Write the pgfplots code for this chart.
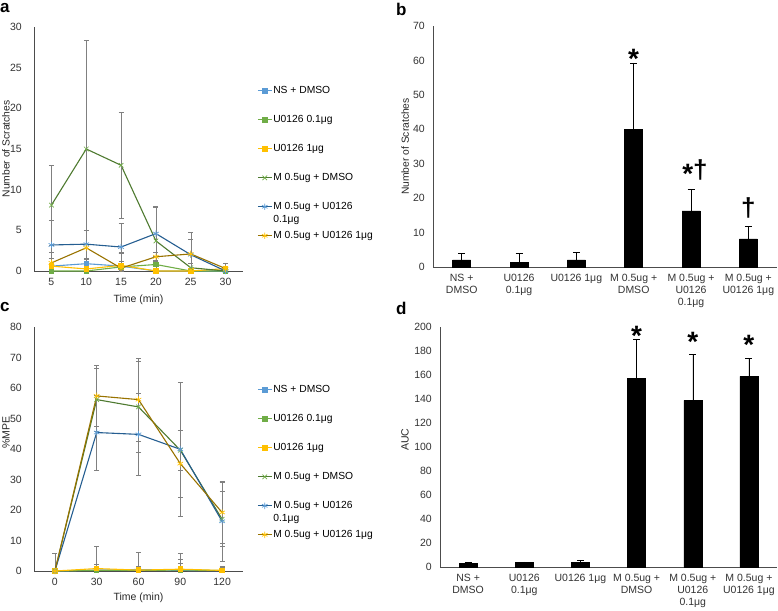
\documentclass[border=0pt]{standalone}
\usepackage{pgfplots}
\pgfplotsset{compat=1.18}
\usepackage{fontspec}
\setmainfont{Liberation Sans}
\definecolor{lblue}{HTML}{5B9BD5}
\definecolor{lgreen}{HTML}{70AD47}
\definecolor{lyellow}{HTML}{FFC000}
\definecolor{dgreen}{HTML}{4E7A30}
\definecolor{dblue}{HTML}{255E91}
\definecolor{brown}{HTML}{997300}
\definecolor{ebgray}{HTML}{808080}
\tikzset{
  ast/.style={anchor=base, inner sep=0pt, font=\bfseries\fontsize{28}{28}\selectfont},
  dag/.style={anchor=base, inner sep=0pt, font=\bfseries\fontsize{26}{26}\selectfont},
}
\pgfplotsset{
  common/.style={scale only axis, axis lines=left, axis line style={-, black!70, line width=0.6pt},
    major tick length=0pt, tick style={draw=none}, clip=false,
    /pgf/number format/assume math mode=true,
    ticklabel style={font=\fontsize{10.5}{12.5}\selectfont, text=black!80},
    label style={font=\fontsize{10.3}{12}\selectfont, text=black!85}},
  lineax/.style={common,
    legend cell align=left,
    legend style={draw=none, fill=none, anchor=north west, inner sep=0pt, row sep=18pt,
      font=\fontsize{10.3}{13}\selectfont,
      nodes={text height=7pt, text depth=2pt, inner sep=1pt},
      /tikz/every even column/.append style={column sep=1pt}},
    legend image code/.code={\draw[mark repeat=2,mark phase=2,##1] plot coordinates {(0pt,0pt)(7pt,0pt)(14pt,0pt)};},
    yticklabel style={anchor=east, inner sep=0pt, xshift=-12pt},
    xticklabel style={anchor=north, inner sep=0pt, yshift=-7pt}},
  ebar/.style={error bars/.cd, y dir=both, y explicit, error bar style={ebgray, line width=0.5pt, solid},
    error mark options={ebgray, rotate=90, mark size=2.5pt, line width=0.5pt}},
  s1/.style={lblue, line width=1.1pt, mark=square*, mark size=2.2pt, mark options={lblue, fill=lblue, solid}, ebar},
  s2/.style={lgreen, line width=1.1pt, mark=square*, mark size=2.2pt, mark options={lgreen, fill=lgreen, solid}, ebar},
  s3/.style={lyellow, line width=1.1pt, mark=square*, mark size=2.2pt, mark options={lyellow, fill=lyellow, solid}, ebar},
  s4/.style={dgreen, line width=1.1pt, mark=x, mark size=3.2pt, mark options={lgreen, line width=0.7pt, solid}, ebar},
  s5/.style={dblue, line width=1.1pt, mark=asterisk, mark size=3.2pt, mark options={lblue, line width=0.7pt, solid}, ebar},
  s6/.style={brown, line width=1.1pt, mark=asterisk, mark size=3.2pt, mark options={lyellow, line width=0.7pt, solid}, ebar},
  barax/.style={common, ybar, bar width=18pt, xmin=-0.5, xmax=5.5, ymin=0, xtick=data,
    yticklabel style={anchor=east, inner sep=0pt, xshift=-8pt},
    xticklabel style={anchor=north, inner sep=0pt, yshift=-7pt, align=center, font=\fontsize{10.5}{12}\selectfont},
    xticklabels={{NS +\\DMSO},{U0126\\0.1μg},{U0126 1μg},{M 0.5ug +\\DMSO},{M 0.5ug +\\U0126\\0.1μg},{M 0.5ug +\\U0126 1μg}}},
  barplot/.style={fill=black, draw=black, error bars/.cd, y dir=plus, y explicit,
    error bar style={black, line width=0.5pt}, error mark options={black, rotate=90, mark size=3.5pt, line width=0.5pt}},
}
\newcommand{\twoline}{\begin{tabular}[t]{@{}l@{}}M 0.5ug + U0126\\0.1μg\end{tabular}}
\begin{document}
\begin{tikzpicture}[x=1pt,y=1pt]
\useasboundingbox (0,0) rectangle (778,-610);
% ---------------- panel a
\begin{axis}[lineax, at={(34pt,-271pt)}, anchor=south west, width=209pt, height=244pt,
  xmin=2.5, xmax=32.5, ymin=0, ymax=30, xtick={5,10,15,20,25,30}, ytick={0,5,...,30},
  xlabel={Time (min)}, ylabel={Number of Scratches},
  xlabel style={at={(axis description cs:0.5,-0.118)}, anchor=center, font=\fontsize{10.5}{12}\selectfont},
  ylabel style={at={(axis description cs:-0.134,0.5)}, anchor=center, rotate=0},
  legend style={at={(axis description cs:1.067,0.762)}}]
\addplot[s1] table[x=x,y=y,y error plus=ep,y error minus=em] {
x y ep em
5 0.6 1.0 0.6
10 0.9 0.7 0.7
15 0.6 1.6 0.6
20 0 0 0
25 0 0 0
30 0 0 0
};
\addlegendentry{NS + DMSO}
\addplot[s2] table[x=x,y=y,y error plus=ep,y error minus=em] {
x y ep em
5 0 0 0
10 0 0 0
15 0.5 0.7 0.5
20 0.8 1.0 0.8
25 0 0 0
30 0 0 0
};
\addlegendentry{U0126 0.1μg}
\addplot[s3] table[x=x,y=y,y error plus=ep,y error minus=em] {
x y ep em
5 0.6 1.0 0.6
10 0.25 1.2 0.25
15 0.7 1.5 0.7
20 0 0 0
25 0 0 0
30 0.3 0.6 0.3
};
\addlegendentry{U0126 1μg}
\addplot[s4] table[x=x,y=y,y error plus=ep,y error minus=em] {
x y ep em
5 8.1 4.9 4.9
10 15.0 13.4 13.4
15 13.0 6.5 6.5
20 3.7 4.3 3.7
25 0.4 0.6 0.4
30 0 0 0
};
\addlegendentry{M 0.5ug + DMSO}
\addplot[s5] table[x=x,y=y,y error plus=ep,y error minus=em] {
x y ep em
5 3.2 3.0 3.0
10 3.3 1.7 1.7
15 2.95 2.9 2.9
20 4.6 3.3 3.3
25 2.0 2.8 2.0
30 0 0 0
};
\addlegendentry{\twoline}
\addplot[s6] table[x=x,y=y,y error plus=ep,y error minus=em] {
x y ep em
5 1.0 1.3 1.0
10 2.85 2.1 2.1
15 0.35 1.9 0.35
20 1.75 0.5 0.5
25 2.1 1.8 1.8
30 0.3 0.6 0.3
};
\addlegendentry{M 0.5ug + U0126 1μg}
\end{axis}
% ---------------- panel c
\begin{axis}[lineax, at={(34pt,-571pt)}, anchor=south west, width=209pt, height=244pt,
  xmin=-15, xmax=135, ymin=0, ymax=80, xtick={0,30,60,90,120}, ytick={0,10,...,80},
  xlabel={Time (min)}, ylabel={\%MPE},
  xlabel style={at={(axis description cs:0.5,-0.11)}, anchor=center, font=\fontsize{10.5}{12}\selectfont},
  ylabel style={at={(axis description cs:-0.134,0.566)}, anchor=center, rotate=0, font=\fontsize{10.5}{12}\selectfont},
  legend style={at={(axis description cs:1.067,0.766)}}]
\addplot[s1] table[x=x,y=y,y error plus=ep,y error minus=em] {
x y ep em
0 0 5.8 0
30 0.3 2 0.3
60 0.5 1.2 0.5
90 0.2 2.2 0.2
120 0.1 1.2 0.1
};
\addlegendentry{NS + DMSO}
\addplot[s2] table[x=x,y=y,y error plus=ep,y error minus=em] {
x y ep em
0 0 0 0
30 0.2 1 0.2
60 0.2 1 0.2
90 0.3 3.7 0.3
120 0.2 1 0.2
};
\addlegendentry{U0126 0.1μg}
\addplot[s3] table[x=x,y=y,y error plus=ep,y error minus=em] {
x y ep em
0 0 0 0
30 0.8 7.4 0.8
60 0.3 5.8 0.3
90 0.6 5.2 0.6
120 0.2 1.3 0.2
};
\addlegendentry{U0126 1μg}
\addplot[s4] table[x=x,y=y,y error plus=ep,y error minus=em] {
x y ep em
0 0 0 0
30 56.2 10.3 10.3
60 53.8 15 15
90 39.6 6.5 6.5
120 17 9 9
};
\addlegendentry{M 0.5ug + DMSO}
\addplot[s5] table[x=x,y=y,y error plus=ep,y error minus=em] {
x y ep em
0 0 0 0
30 45.4 12.2 12.2
60 44.8 13.5 13.5
90 39.9 22 22
120 16.3 13 13
};
\addlegendentry{\twoline}
\addplot[s6] table[x=x,y=y,y error plus=ep,y error minus=em] {
x y ep em
0 0 0 0
30 57.4 10 10
60 56.2 13.7 13.7
90 35.2 11 11
120 19.2 10 10
};
\addlegendentry{M 0.5ug + U0126 1μg}
\end{axis}
% ---------------- panel b
\begin{axis}[barax, at={(433pt,-267pt)}, anchor=south west, width=344pt, height=241pt,
  ymax=70, ytick={0,10,...,70}, ylabel={Number of Scratches},
  ylabel style={at={(axis description cs:-0.081,0.5)}, anchor=center, rotate=0}]
\addplot[barplot] table[x=x,y=y,y error plus=e] {
x y e
0 2.1 1.8
1 1.4 2.5
2 2.1 2.1
3 40.0 19.3
4 16.3 6.2
5 8.2 3.5
};
\node[ast] at (axis cs:3,57.8) {*};
\node[dag, xshift=4pt] at (axis cs:4,25.7) {{\fontsize{28}{28}\selectfont\raisebox{-4.5pt}{*}}†};
\node[dag] at (axis cs:5,14.8) {†};
\end{axis}
% ---------------- panel d
\begin{axis}[barax, at={(440pt,-567pt)}, anchor=south west, width=337pt, height=240pt,
  ymax=200, ytick={0,20,...,200}, ylabel={AUC},
  ylabel style={at={(axis description cs:-0.104,0.53)}, anchor=center, rotate=0, font=\fontsize{10.5}{12}\selectfont}]
\addplot[barplot] table[x=x,y=y,y error plus=e] {
x y e
0 2.8 1.1
1 3.6 0.6
2 3.6 1.7
3 157 32.7
4 138.9 38.3
5 158.9 15.3
};
\node[ast] at (axis cs:3,185) {*};
\node[ast] at (axis cs:4,180) {*};
\node[ast] at (axis cs:5,176.7) {*};
\end{axis}
% panel letters
\node[anchor=north west, inner sep=0pt, font=\bfseries\fontsize{17}{17}\selectfont] at (0,-3) {a};
\node[anchor=north west, inner sep=0pt, font=\bfseries\fontsize{17}{17}\selectfont] at (396,-3) {b};
\node[anchor=north west, inner sep=0pt, font=\bfseries\fontsize{17}{17}\selectfont] at (0,-302) {c};
\node[anchor=north west, inner sep=0pt, font=\bfseries\fontsize{17}{17}\selectfont] at (396,-302) {d};
\end{tikzpicture}
\end{document}
